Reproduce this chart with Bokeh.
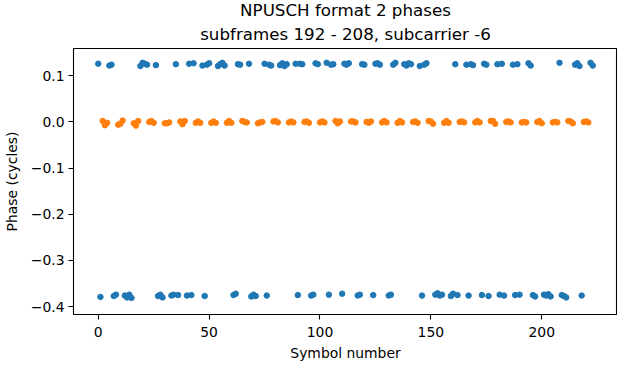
from bokeh.plotting import figure
from bokeh.models import Range1d, Title, CustomJSTickFormatter, FixedTicker
from bokeh.embed import file_html
from bokeh.resources import INLINE

# Data symbols (blue) and DMRS symbols (orange)
blue_symbols = [0, 1, 5, 6, 7, 8, 12, 13, 14, 15, 19, 20, 21, 22, 26, 27, 28, 29, 33, 34,
                35, 36, 40, 41, 42, 43, 47, 48, 49, 50, 54, 55, 56, 57, 61, 62, 63, 64, 68, 69,
                70, 71, 75, 76, 77, 78, 82, 83, 84, 85, 89, 90, 91, 92, 96, 97, 98, 99, 103, 104,
                105, 106, 110, 111, 112, 113, 117, 118, 119, 120, 124, 125, 126, 127, 131, 132, 133, 134, 138, 139,
                140, 141, 145, 146, 147, 148, 152, 153, 154, 155, 159, 160, 161, 162, 166, 167, 168, 169, 173, 174,
                175, 176, 180, 181, 182, 183, 187, 188, 189, 190, 194, 195, 196, 197, 201, 202, 203, 204, 208, 209,
                210, 211, 215, 216, 217, 218, 222, 223]
blue_phase = [0.126, -0.379, 0.122, 0.124, -0.377, -0.374, -0.376, -0.380, -0.374, -0.381,
              0.121, 0.128, 0.126, 0.124, 0.123, -0.377, -0.374, -0.380, -0.376, -0.374,
              0.125, -0.375, -0.376, 0.126, -0.375, 0.127, 0.122, -0.377, 0.124, 0.127,
              0.121, 0.125, 0.128, 0.122, -0.375, -0.372, 0.125, 0.124, 0.126, -0.378,
              -0.374, -0.377, 0.126, -0.376, 0.124, 0.122, 0.123, 0.127, 0.121, 0.125,
              0.126, -0.375, 0.126, 0.125, -0.376, -0.374, 0.127, 0.125, 0.128, -0.374,
              0.124, 0.125, -0.372, 0.126, 0.124, 0.127, -0.376, -0.374, 0.125, 0.124,
              -0.375, 0.126, 0.127, 0.124, -0.376, -0.374, 0.124, 0.128, 0.125, 0.122,
              0.127, 0.125, 0.121, -0.376, 0.124, 0.127, -0.374, -0.371, -0.376, -0.374,
              -0.377, -0.372, 0.125, -0.375, 0.124, -0.376, 0.125, 0.123, -0.375, 0.126,
              0.124, -0.377, 0.125, -0.374, 0.126, -0.376, 0.124, -0.375, 0.125, -0.374,
              0.127, 0.122, -0.375, -0.378, -0.374, -0.376, -0.373, -0.378, 0.128, -0.375,
              -0.377, -0.380, 0.124, 0.127, 0.121, -0.376, 0.128, 0.122]

orange_symbols = [2, 3, 4, 9, 10, 11, 16, 17, 18, 23, 24, 25, 30, 31, 32, 37, 38, 39,
                  44, 45, 46, 51, 52, 53, 58, 59, 60, 65, 66, 67, 72, 73, 74, 79, 80, 81,
                  86, 87, 88, 93, 94, 95, 100, 101, 102, 107, 108, 109, 114, 115, 116,
                  121, 122, 123, 128, 129, 130, 135, 136, 137, 142, 143, 144, 149, 150, 151,
                  156, 157, 158, 163, 164, 165, 170, 171, 172, 177, 178, 179, 184, 185, 186,
                  191, 192, 193, 198, 199, 200, 205, 206, 207, 212, 213, 214, 219, 220, 221]
orange_phase = [0.002, -0.007, -0.002, -0.006, -0.004, 0.003, -0.003, -0.008, 0.002,
                0.000, 0.002, -0.002, -0.003, -0.003, -0.001, 0.001, -0.005, 0.002,
                -0.002, 0.001, -0.002, -0.002, 0.001, -0.002, -0.002, 0.002, -0.002,
                0.002, 0.000, -0.001, -0.003, -0.001, 0.000, 0.001, 0.002, -0.001,
                -0.001, 0.001, -0.001, 0.000, 0.001, -0.002, -0.001, 0.001, -0.001,
                0.002, -0.003, 0.001, 0.001, 0.001, -0.001, 0.000, -0.002, 0.001,
                -0.001, 0.002, -0.001, -0.002, 0.002, -0.001, 0.000, 0.001, -0.002,
                0.002, 0.001, -0.004, -0.002, 0.002, -0.002, 0.000, 0.001, -0.001,
                -0.001, 0.002, -0.001, 0.002, 0.002, -0.004, 0.000, 0.001, -0.001,
                -0.001, 0.000, -0.001, 0.000, 0.002, -0.003, -0.001, 0.000, -0.001,
                0.002, 0.001, -0.003, 0.000, 0.001, -0.001]

x_ticks = [0, 50, 100, 150, 200]
y_ticks = [-0.4, -0.3, -0.2, -0.1, 0.0, 0.1]

FONT = "DejaVu Sans"

p = figure(frame_width=544, frame_height=266, output_backend="svg", toolbar_location=None,
           x_range=Range1d(-11.15, 234.15), y_range=Range1d(-0.417, 0.159),
           min_border_left=65, min_border_right=0, min_border_top=30, min_border_bottom=40)

p.add_layout(Title(text="subframes 192 - 208, subcarrier -6", align="center",
                   text_font=FONT, text_font_size="16.7px", text_font_style="normal",
                   text_color="black", standoff=9), "above")
p.add_layout(Title(text="NPUSCH format 2 phases", align="center",
                   text_font=FONT, text_font_size="16.7px", text_font_style="normal",
                   text_color="black", standoff=-5), "above")
p.add_layout(Title(text="Symbol number", align="center",
                   text_font=FONT, text_font_size="13.9px", text_font_style="normal",
                   text_color="black", standoff=7), "below")

p.scatter(blue_symbols, blue_phase, size=5.5, color="#1f77b4", line_color="#1f77b4")
p.scatter(orange_symbols, orange_phase, size=5.5, color="#ff7f0e", line_color="#ff7f0e")

p.grid.visible = False
p.outline_line_color = "black"
p.outline_line_width = 1.1
p.background_fill_color = "white"
p.border_fill_color = "white"

for ax in (p.xaxis[0], p.yaxis[0]):
    ax.axis_line_color = None
    ax.major_tick_line_color = "black"
    ax.major_tick_line_width = 1.1
    ax.major_tick_out = 5
    ax.major_tick_in = 0
    ax.minor_tick_line_color = None
    ax.major_label_text_font = FONT
    ax.major_label_text_font_size = "13.9px"
    ax.major_label_text_color = "black"
    ax.axis_label_text_font = FONT
    ax.axis_label_text_font_size = "13.9px"
    ax.axis_label_text_font_style = "normal"
    ax.axis_label_text_color = "black"
    ax.major_label_standoff = 4

p.xaxis[0].major_label_standoff = 7
p.xaxis[0].ticker = FixedTicker(ticks=x_ticks)
p.yaxis[0].ticker = FixedTicker(ticks=y_ticks)
p.yaxis[0].axis_label = "Phase (cycles)"
p.yaxis[0].axis_label_standoff = 8
p.yaxis[0].formatter = CustomJSTickFormatter(code="return tick.toFixed(1).replace('-', '\u2212');")

open("out.html", "w").write(file_html(p, INLINE))
